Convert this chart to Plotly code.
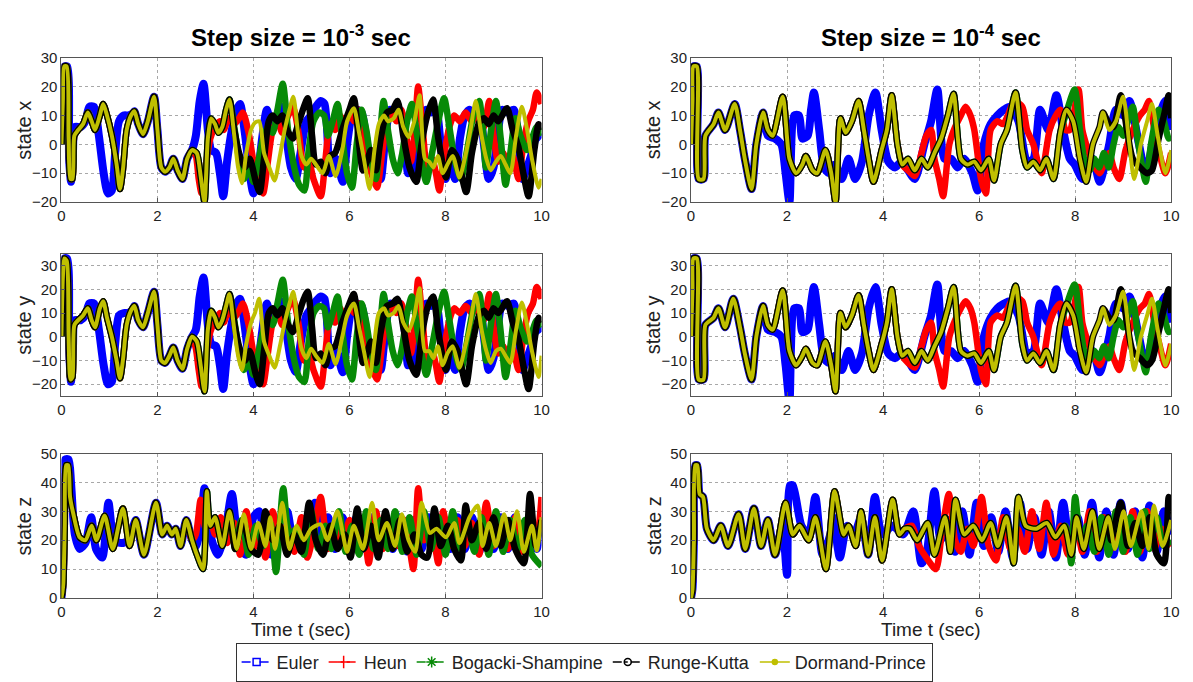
import plotly.graph_objects as go

METHODS = ["Euler", "Heun", "Bogacki-Shampine", "Runge-Kutta", "Dormand-Prince"]
COLORS = ["#0000FF", "#FF0000", "#078A07", "#000000", "#BFBF00"]
WIDTHS = [8, 6.5, 6.5, 6.5, 4]
TIME_TICKS = [0, 2, 4, 6, 8, 10]

# ================= Step size = 1e-3 (left column) =================
# ---- state x ----
L_X_COMMON = [(0,0),(0.03,15),(0.06,27),(0.11,27),(0.15,2),(0.19,-12),(0.23,-12),(0.27,3),(0.35,5),(0.45,7),(0.55,11),(0.63,8),(0.7,5),(0.8,10),(0.87,14),(0.95,10),(1.05,3),(1.15,-7),(1.22,-15.5),(1.28,-9),(1.36,5),(1.45,10),(1.52,11.5),(1.6,7),(1.7,3.5),(1.8,8),(1.93,16.5),(2.0,5),(2.08,-8),(2.16,-9.5),(2.25,-8),(2.33,-5),(2.42,-9),(2.52,-12),(2.62,-5),(2.72,-2)]
L_X_MID = [(2.82,-3),(2.9,-11),(2.98,-20),(3.05,2),(3.12,9),(3.2,7),(3.27,4),(3.35,6),(3.43,12),(3.5,15.5)]
L_X_EULER_EARLY = [(0,0),(0.03,20),(0.06,27),(0.12,27),(0.16,-5),(0.2,-13),(0.24,-3),(0.28,6),(0.4,6),(0.5,8),(0.58,13),(0.68,13),(0.78,3),(0.88,-10),(0.97,-17),(1.05,-16),(1.12,-3),(1.2,8),(1.3,10),(1.4,10),(1.5,11)]
L_X_EULER = [(2.8,3),(2.88,15),(2.96,21),(3.05,5),(3.12,-2),(3.22,-3),(3.3,-10),(3.37,-18),(3.45,-6),(3.55,5),(3.65,12),(3.72,14),(3.82,4),(3.92,-10),(4.0,-17),(4.08,-12),(4.18,2),(4.28,12),(4.38,6),(4.48,8),(4.58,13),(4.68,3),(4.78,-8),(4.88,-12),(4.98,-3),(5.1,8),(5.2,10),(5.3,13),(5.4,15),(5.48,14),(5.6,-10),(5.72,-5),(5.86,-13),(5.95,0),(6.05,10),(6.15,12),(6.25,11),(6.35,2),(6.45,-8),(6.55,-5),(6.65,-12),(6.75,3),(6.85,12),(6.95,11),(7.05,12),(7.15,3),(7.22,-10),(7.3,-6),(7.38,-12),(7.48,2),(7.6,12),(7.7,11),(7.8,12),(7.9,0),(8.0,-12),(8.1,-6),(8.2,-12),(8.3,2),(8.4,10),(8.5,12),(8.6,10),(8.7,11),(8.8,0),(8.9,-12),(9.0,-8),(9.08,2),(9.18,12),(9.3,11),(9.42,12),(9.5,5),(9.6,-12),(9.7,-8),(9.8,-3),(9.9,3),(10,2)]
L_X_HEUN = [(2.8,-4),(2.86,-12),(2.92,-17),(3.0,-8),(3.1,2),(3.2,6),(3.3,8),(3.38,5),(3.48,9),(3.6,7),(3.7,9),(3.78,11),(3.9,4),(4.0,-6),(4.1,-12),(4.2,-17),(4.3,-6),(4.4,5),(4.5,8),(4.6,4),(4.7,9),(4.82,13),(4.95,3),(5.05,-8),(5.15,-6),(5.25,-12),(5.4,-18),(5.5,-5),(5.6,7),(5.7,5),(5.8,10),(5.9,7),(6.0,11),(6.1,8),(6.2,12),(6.3,3),(6.42,-8),(6.57,-15),(6.68,-3),(6.78,8),(6.88,11),(6.98,8),(7.08,12),(7.18,3),(7.28,-6),(7.36,5),(7.43,20),(7.52,6),(7.62,-8),(7.72,-5),(7.8,-10),(7.87,-16),(7.97,-4),(8.08,6),(8.18,10),(8.3,8),(8.42,11),(8.55,8),(8.68,10),(8.8,6),(8.91,15),(9.0,3),(9.1,-6),(9.2,-3),(9.3,-8),(9.4,-4),(9.52,-12),(9.62,0),(9.72,8),(9.82,12),(9.9,18),(10,14)]
L_X_BS = [(3.6,6),(3.7,-5),(3.8,-12),(3.9,-8),(4.0,-13),(4.1,-6),(4.2,2),(4.3,6),(4.4,4),(4.5,12),(4.61,21),(4.72,5),(4.85,-8),(4.95,-14),(5.06,-16),(5.15,-2),(5.25,8),(5.37,11),(5.47,10),(5.55,3),(5.65,8),(5.75,14),(5.85,2),(5.95,-10),(6.05,-15),(6.15,0),(6.25,12),(6.35,5),(6.45,-6),(6.55,-12),(6.63,2),(6.71,15),(6.8,5),(6.9,-5),(7.0,-10),(7.1,-3),(7.2,8),(7.3,14),(7.4,4),(7.5,-6),(7.6,-13),(7.72,-3),(7.85,8),(7.97,16),(8.08,6),(8.2,-6),(8.32,-12),(8.45,-2),(8.58,10),(8.7,15),(8.78,5),(8.84,-8),(8.95,5),(9.05,15),(9.15,2),(9.25,-14),(9.35,-3),(9.46,9),(9.56,3),(9.7,-2),(9.8,2),(9.9,6),(10,3)]
L_X_RK = [(3.6,5),(3.7,-3),(3.82,-8),(3.92,-5),(4.05,-13),(4.13,-16.5),(4.22,-5),(4.32,8),(4.4,10),(4.5,8),(4.6,10),(4.7,5),(4.82,2),(4.95,8),(5.05,13),(5.13,16),(5.22,3),(5.3,-7),(5.4,-6),(5.5,-10),(5.6,-4),(5.7,-3),(5.85,5),(6.0,12),(6.09,16),(6.2,0),(6.28,-9),(6.36,-6),(6.45,-2),(6.55,-9),(6.65,2),(6.78,11),(6.9,12),(7.0,15),(7.12,3),(7.25,-8),(7.39,-13),(7.5,0),(7.62,10),(7.74,15.5),(7.85,2),(8.01,-11.5),(8.13,-2),(8.25,-5),(8.43,-16.5),(8.55,-3),(8.7,7.5),(8.8,9),(8.9,7),(9.0,10),(9.1,8),(9.28,12.5),(9.4,5),(9.52,-1),(9.62,-10),(9.73,-18),(9.85,-2),(9.94,7),(10,5)]
L_X_DP = [(3.6,3),(3.68,-8),(3.76,-13.5),(3.85,-3),(3.95,5),(4.03,7.5),(4.12,8),(4.22,-3),(4.33,-8),(4.44,-12.5),(4.55,-4),(4.65,5),(4.75,12),(4.83,16.5),(4.92,5),(5.0,-4),(5.1,-7),(5.2,-5),(5.3,-7),(5.44,-10),(5.57,-4),(5.71,-11),(5.85,-2),(5.95,8),(6.09,12.5),(6.2,4),(6.3,-5),(6.42,-15.5),(6.52,-2),(6.61,7),(6.72,10),(6.8,8),(6.92,9),(7.02,12),(7.12,6),(7.23,2.5),(7.35,8),(7.46,17),(7.57,-5),(7.66,-6),(7.75,-8),(7.84,-4),(7.94,-10),(8.04,-7),(8.15,-4),(8.29,-11.5),(8.4,-5),(8.52,5),(8.63,15),(8.75,3),(8.85,-5),(8.94,-9),(9.05,-6),(9.15,-4),(9.25,-7),(9.35,-10),(9.47,3),(9.59,13),(9.7,5),(9.8,-5),(9.94,-15),(10.0,-12)]

# ---- state y ----
L_Y_COMMON = [(0,0),(0.03,25),(0.06,33),(0.11,32),(0.15,0),(0.19,-18),(0.23,-17),(0.27,5),(0.35,7),(0.45,9),(0.55,12),(0.63,7),(0.7,4),(0.8,12),(0.87,15),(0.95,8),(1.05,0),(1.15,-10),(1.22,-17.5),(1.28,-10),(1.36,5),(1.45,11),(1.52,13),(1.6,7),(1.7,4),(1.8,10),(1.93,19),(2.0,5),(2.08,-10),(2.16,-11),(2.25,-8),(2.33,-4.5),(2.42,-10),(2.52,-13.5),(2.62,-5),(2.72,0)]
L_Y_MID = [(2.82,-2),(2.9,-12),(2.98,-23),(3.05,3),(3.12,11),(3.2,8),(3.27,4),(3.35,7),(3.43,13),(3.5,18)]
L_Y_EULER_EARLY = [(0,0),(0.03,25),(0.06,33),(0.12,33),(0.16,-5),(0.2,-19),(0.24,-5),(0.28,7),(0.4,7),(0.5,9),(0.58,14),(0.68,14),(0.78,3),(0.88,-12),(0.97,-20),(1.05,-19),(1.12,-3),(1.2,9),(1.3,10),(1.4,10),(1.5,12)]
L_Y_EULER = [(2.8,3),(2.88,17),(2.96,25),(3.05,5),(3.12,-3),(3.22,-4),(3.3,-12),(3.37,-22),(3.45,-7),(3.55,6),(3.65,14),(3.72,16),(3.82,4),(3.92,-12),(4.0,-20),(4.08,-14),(4.18,2),(4.28,14),(4.38,7),(4.48,9),(4.58,15),(4.68,3),(4.78,-10),(4.88,-15),(4.98,-3),(5.1,9),(5.2,12),(5.3,15),(5.4,17),(5.48,16),(5.6,-12),(5.72,-6),(5.86,-15),(5.95,0),(6.05,12),(6.15,14),(6.25,13),(6.35,2),(6.45,-10),(6.55,-6),(6.65,-14),(6.75,3),(6.85,14),(6.95,13),(7.05,14),(7.15,3),(7.22,-12),(7.3,-7),(7.38,-14),(7.48,2),(7.6,14),(7.7,13),(7.8,14),(7.9,0),(8.0,-14),(8.1,-7),(8.2,-14),(8.3,2),(8.4,12),(8.5,14),(8.6,12),(8.7,13),(8.8,0),(8.9,-14),(9.0,-9),(9.08,2),(9.18,14),(9.3,13),(9.42,14),(9.5,5),(9.6,-14),(9.7,-9),(9.8,-3),(9.9,4),(10,2)]
L_Y_HEUN = [(2.8,-5),(2.86,-14),(2.92,-21),(3.0,-10),(3.1,2),(3.2,7),(3.3,10),(3.38,6),(3.48,11),(3.6,8),(3.7,11),(3.78,14),(3.9,5),(4.0,-7),(4.1,-14),(4.2,-20),(4.3,-7),(4.4,6),(4.5,10),(4.6,5),(4.7,11),(4.82,16),(4.95,4),(5.05,-10),(5.15,-7),(5.25,-14),(5.4,-21),(5.5,-6),(5.6,8),(5.7,6),(5.8,12),(5.9,8),(6.0,13),(6.1,10),(6.2,14),(6.3,4),(6.42,-10),(6.57,-18),(6.68,-4),(6.78,10),(6.88,13),(6.98,10),(7.08,14),(7.18,4),(7.28,-7),(7.36,6),(7.43,24),(7.52,7),(7.62,-10),(7.72,-6),(7.8,-12),(7.87,-19),(7.97,-5),(8.08,7),(8.18,12),(8.3,10),(8.42,13),(8.55,10),(8.68,12),(8.8,7),(8.91,18),(9.0,4),(9.1,-7),(9.2,-4),(9.3,-10),(9.4,-5),(9.52,-14),(9.62,0),(9.72,10),(9.82,14),(9.9,21),(10,16)]
L_Y_BS = [(3.6,7),(3.7,-6),(3.8,-14),(3.9,-10),(4.0,-16),(4.1,-7),(4.2,2),(4.3,7),(4.4,5),(4.5,14),(4.61,24),(4.72,6),(4.85,-10),(4.95,-17),(5.06,-19),(5.15,-2),(5.25,10),(5.37,13),(5.47,12),(5.55,4),(5.65,10),(5.75,17),(5.85,2),(5.95,-12),(6.05,-18),(6.15,0),(6.25,14),(6.35,6),(6.45,-7),(6.55,-14),(6.63,2),(6.71,18),(6.8,6),(6.9,-6),(7.0,-12),(7.1,-4),(7.2,10),(7.3,17),(7.4,5),(7.5,-7),(7.6,-16),(7.72,-4),(7.85,10),(7.97,19),(8.08,7),(8.2,-7),(8.32,-14),(8.45,-2),(8.58,12),(8.7,18),(8.78,6),(8.84,-10),(8.95,6),(9.05,18),(9.15,2),(9.25,-17),(9.35,-4),(9.46,11),(9.56,4),(9.7,-2),(9.8,2),(9.9,7),(10,4)]
L_Y_RK = [(3.6,6),(3.7,-4),(3.82,-10),(3.92,-6),(4.05,-16),(4.13,-20),(4.22,-6),(4.32,10),(4.4,12),(4.5,9),(4.6,12),(4.7,6),(4.82,2),(4.95,10),(5.05,16),(5.13,19),(5.22,4),(5.3,-9),(5.4,-7),(5.5,-12),(5.6,-5),(5.7,-4),(5.85,6),(6.0,14),(6.09,18),(6.2,0),(6.28,-11),(6.36,-7),(6.45,-2),(6.55,-11),(6.65,2),(6.78,13),(6.9,14),(7.0,16),(7.12,4),(7.25,-10),(7.39,-16),(7.5,0),(7.62,12),(7.74,17),(7.85,2),(8.01,-14),(8.13,-2),(8.25,-6),(8.43,-20),(8.55,-4),(8.7,9),(8.8,11),(8.9,8),(9.0,12),(9.1,10),(9.28,15),(9.4,6),(9.52,-1),(9.62,-12),(9.73,-22),(9.85,-2),(9.94,8),(10,6)]
L_Y_DP = [(3.6,3),(3.68,-8),(3.76,-14),(3.85,-3),(3.95,6),(4.03,10),(4.12,16),(4.22,-2),(4.33,-8),(4.44,-13),(4.55,-4),(4.65,6),(4.75,14),(4.83,19),(4.92,5),(5.0,-5),(5.1,-9),(5.2,-5),(5.3,-8),(5.44,-11),(5.57,-3),(5.71,-11.5),(5.85,0),(5.95,9),(6.09,14),(6.2,4),(6.3,-6),(6.42,-17),(6.52,-2),(6.61,10),(6.72,12),(6.8,9),(6.92,10),(7.02,13),(7.12,6),(7.23,2.5),(7.35,9),(7.46,20.5),(7.57,-6),(7.66,-6),(7.75,-9),(7.84,-4),(7.94,-12),(8.04,-7),(8.15,-4),(8.29,-13),(8.4,-5),(8.52,6),(8.63,18),(8.75,3),(8.85,-6),(8.94,-11),(9.05,-6),(9.15,-5),(9.25,-8),(9.35,-11),(9.47,3),(9.59,14.5),(9.7,5),(9.8,-6),(9.94,-17),(10.0,-8)]

# ---- state z ----
L_Z_COMMON = [(0,0),(0.02,2),(0.04,5),(0.07,25),(0.1,46),(0.14,46),(0.18,35),(0.25,29),(0.38,21),(0.5,20),(0.63,25),(0.73,20),(0.9,28.5),(1.07,17),(1.28,31),(1.42,18),(1.55,27),(1.72,15),(1.97,33),(2.1,22),(2.2,25),(2.3,22),(2.38,24),(2.48,18),(2.6,27),(2.72,20)]
L_Z_MID = [(2.82,15),(2.95,10),(3.03,37),(3.1,25),(3.2,28),(3.35,18),(3.5,30)]
L_Z_EULER_EARLY = [(0,0),(0.02,3),(0.05,20),(0.08,48),(0.15,48),(0.2,40),(0.28,22),(0.38,17),(0.5,19),(0.62,28),(0.72,17),(0.85,14),(0.98,33),(1.1,20),(1.25,19),(1.4,20),(1.5,25)]
L_Z_EULER = [(2.8,18),(2.9,25),(2.98,38),(3.1,22),(3.25,15),(3.4,22),(3.55,36),(3.7,18),(3.85,15),(4.0,28),(4.12,30),(4.25,18),(4.38,15),(4.55,22),(4.7,30),(4.85,18),(5.0,22),(5.12,17),(5.28,33),(5.42,18),(5.55,28),(5.7,17),(5.85,28),(6.0,18),(6.15,28),(6.3,17),(6.45,28),(6.6,17),(6.75,28),(6.9,17),(7.05,28),(7.2,16),(7.35,27),(7.5,17),(7.65,28),(7.8,17),(7.95,28),(8.1,17),(8.25,28),(8.4,17),(8.55,28),(8.7,16),(8.85,28),(9.0,17),(9.15,28),(9.3,17),(9.45,28),(9.6,17),(9.75,28),(9.9,17),(10,28)]
L_Z_HEUN = [(2.8,22),(2.9,34),(3.0,24),(3.1,27),(3.2,22),(3.32,28),(3.45,19),(3.6,26),(3.72,15),(3.85,30),(4.0,17),(4.12,25),(4.25,14),(4.4,30),(4.55,20),(4.7,25),(4.85,16),(5.0,28),(5.12,14),(5.25,22),(5.4,35),(5.55,17),(5.7,26),(5.85,18),(6.0,27),(6.12,20),(6.28,24),(6.4,12),(6.55,30),(6.7,17),(6.85,26),(7.0,18),(7.15,27),(7.33,10),(7.43,38),(7.55,20),(7.7,25),(7.85,12),(7.95,30),(8.1,18),(8.25,27),(8.4,18),(8.55,26),(8.7,15),(8.85,33),(9.0,18),(9.15,27),(9.3,17),(9.45,28),(9.6,16),(9.75,22),(9.88,20),(10,35)]
L_Z_BS = [(3.62,17),(3.75,27),(3.9,15),(4.05,25),(4.2,18),(4.35,26),(4.47,9),(4.62,38),(4.75,22),(4.9,24),(5.05,15),(5.2,30),(5.35,17),(5.5,25),(5.62,17),(5.78,30),(5.92,16),(6.05,25),(6.2,15),(6.35,30),(6.5,17),(6.65,27),(6.8,17),(6.95,30),(7.1,16),(7.25,28),(7.4,15),(7.55,30),(7.7,17),(7.85,28),(8.0,15),(8.15,30),(8.3,17),(8.45,27),(8.6,16),(8.75,28),(8.9,15),(9.05,30),(9.2,16),(9.35,27),(9.5,17),(9.65,27),(9.8,15),(10,11)]
L_Z_RK = [(3.62,17),(3.78,27),(3.95,17),(4.1,15),(4.25,30),(4.4,20),(4.55,25),(4.7,15),(4.85,22),(5.0,16),(5.16,33),(5.3,20),(5.45,15),(5.6,25),(5.75,17),(5.9,22),(6.02,14),(6.16,31),(6.3,17),(6.45,25),(6.6,14),(6.75,30),(6.9,17),(7.05,27),(7.2,16),(7.35,22),(7.5,15),(7.62,14),(7.77,31),(7.9,18),(8.05,25),(8.18,17),(8.32,13),(8.42,32),(8.55,20),(8.7,26),(8.85,17),(9.0,28),(9.15,18),(9.3,27),(9.45,17),(9.63,12),(9.76,36),(9.88,18),(10,27)]
L_Z_DP = [(3.65,17),(3.8,29),(3.95,17),(4.1,26),(4.25,18),(4.35,28),(4.45,17),(4.6,33),(4.75,17),(4.9,25),(5.05,20),(5.2,24),(5.4,25.5),(5.54,20),(5.75,30),(5.95,16),(6.09,25),(6.28,17),(6.47,33),(6.61,20),(6.78,26),(6.95,18),(7.09,29),(7.23,20),(7.37,16),(7.5,33),(7.67,22.5),(7.81,24),(8.01,21),(8.18,26),(8.29,19),(8.5,28),(8.67,32),(8.77,18),(8.91,26),(9.05,18),(9.22,29),(9.35,20),(9.49,30),(9.63,16),(9.8,25),(9.9,16.5),(10,28)]

# ================= Step size = 1e-4 (right column) =================
# ---- state x ----
R_X_COMMON = [(0,0),(0.03,15),(0.05,27),(0.12,27),(0.16,-12),(0.26,-12),(0.3,3),(0.47,7),(0.57,11),(0.71,5),(0.91,14),(1.02,5),(1.12,-5),(1.26,-15.5),(1.36,0),(1.5,11)]
R_X_CONT = [(1.6,5),(1.7,3),(1.91,16.5),(2.05,-5),(2.19,-10),(2.32,-7),(2.39,-4),(2.53,-9),(2.63,-10),(2.8,-2),(2.92,-10),(3.01,-20),(3.11,9),(3.22,4),(3.35,8),(3.49,15),(3.6,5),(3.7,-5),(3.8,-13),(3.97,-2),(4.08,5),(4.18,17),(4.3,0),(4.4,-7)]
R_X_DP = [(4.52,-5),(4.66,-9),(4.8,-5),(4.93,-8),(5.07,-3),(5.21,2),(5.35,10),(5.47,17.5),(5.62,-5),(5.76,-7),(5.9,-6),(6.04,-9),(6.2,-5),(6.31,-12.5),(6.45,0),(6.58,5),(6.76,18),(6.9,-2),(7.0,-8),(7.13,-6),(7.27,-9),(7.4,-5),(7.55,-12),(7.69,4),(7.82,12),(7.96,8),(8.1,-5),(8.23,-13),(8.37,0),(8.51,6),(8.58,11),(8.71,5),(8.85,8),(9.0,16.5),(9.13,0),(9.23,-12),(9.37,0),(9.5,8),(9.6,14),(9.72,3),(9.88,-10),(10,-2)]
R_X_EULER = [(1.6,3),(1.75,2),(1.88,0),(1.97,-10),(2.05,-20),(2.15,10),(2.25,10),(2.32,2),(2.43,3),(2.5,12),(2.56,18),(2.67,5),(2.77,-8),(2.87,-10),(3.0,-7),(3.14,-12),(3.28,-5),(3.42,-12),(3.56,-6),(3.7,10),(3.84,18),(3.97,5),(4.11,-6),(4.25,-8),(4.38,-6),(4.52,-9),(4.66,-12),(4.86,0),(5.0,8),(5.13,19),(5.28,-5),(5.42,-5),(5.55,-8),(5.69,-5),(5.86,-10),(5.97,-16),(6.1,0),(6.24,7),(6.38,10),(6.52,12),(6.65,13),(6.82,8),(7.0,-6),(7.13,-5),(7.27,12),(7.44,5),(7.61,17),(7.75,5),(7.89,-5),(7.99,-7),(8.16,-12),(8.37,-5),(8.51,-13),(8.71,0),(8.85,12),(9.0,10),(9.13,15),(9.33,0),(9.47,-10),(9.67,5),(9.88,15),(10,5)]
R_X_HEUN = [(4.52,-9),(4.66,-11),(4.8,-3),(4.9,3),(5.0,5),(5.07,-5),(5.17,-12),(5.25,-18),(5.38,0),(5.5,6),(5.62,10),(5.72,13),(5.82,10),(5.9,5),(6.04,-12),(6.14,-17),(6.24,5),(6.38,8),(6.5,7),(6.6,10),(6.73,15),(6.9,13),(7.0,5),(7.13,0),(7.3,-10),(7.47,5),(7.6,10),(7.69,12),(7.8,5),(7.89,5),(8.07,19),(8.15,5),(8.23,0),(8.35,-6),(8.51,-10),(8.62,-6),(8.71,-3),(8.8,-8),(8.92,-12),(9.05,-2),(9.2,5),(9.35,10),(9.45,12),(9.54,15),(9.65,5),(9.74,-2),(9.88,-10),(10,-3)]
R_X_BS = [(7.8,10),(7.99,19),(8.1,5),(8.2,-6),(8.3,-9),(8.4,-5),(8.5,-8),(8.6,-3),(8.7,-8),(8.8,0),(8.9,6),(9.0,3),(9.1,8),(9.2,13),(9.3,2),(9.4,-8),(9.47,-13),(9.58,0),(9.74,12),(9.85,8),(9.95,2),(10,3)]
R_X_RK = [(8.71,7),(8.8,6),(8.95,17),(9.08,5),(9.2,-5),(9.35,-8),(9.5,-10),(9.6,-9),(9.74,2),(9.85,10),(9.95,17),(10,9)]

# ---- state y ----
R_Y_COMMON = [(0,0),(0.03,20),(0.05,33),(0.12,33),(0.16,-18),(0.26,-18),(0.3,5),(0.47,8),(0.57,12),(0.71,4),(0.88,16),(1.02,4),(1.12,-7),(1.26,-18),(1.36,0),(1.5,13)]
R_Y_CONT = [(1.6,5),(1.7,3),(1.91,19.5),(2.05,-6),(2.19,-12),(2.32,-8),(2.39,-5),(2.53,-11),(2.63,-12),(2.8,-2),(2.92,-12),(3.01,-23),(3.11,10),(3.22,4),(3.35,9),(3.49,17.5),(3.6,5),(3.7,-6),(3.8,-14),(3.97,-3),(4.08,6),(4.18,20),(4.3,0),(4.4,-8)]
R_Y_DP = [(4.52,-6),(4.66,-11),(4.8,-6),(4.93,-10),(5.07,-4),(5.21,2),(5.35,12),(5.47,21),(5.62,-6),(5.76,-8),(5.9,-7),(6.04,-11),(6.2,-6),(6.31,-14),(6.45,0),(6.58,6),(6.76,21.5),(6.9,-3),(7.0,-10),(7.13,-7),(7.27,-11),(7.4,-6),(7.55,-14),(7.69,5),(7.82,14),(7.96,9),(8.1,-6),(8.23,-15),(8.37,0),(8.51,7),(8.58,12),(8.71,5),(8.85,9),(9.0,19),(9.13,0),(9.23,-14),(9.37,0),(9.5,9),(9.6,16),(9.72,3),(9.88,-12),(10,-3)]
R_Y_EULER = [(1.6,3),(1.75,2),(1.88,0),(1.97,-12),(2.05,-27),(2.15,12),(2.25,12),(2.32,2),(2.43,3),(2.5,14),(2.56,21),(2.67,5),(2.77,-9),(2.87,-11),(3.0,-8),(3.14,-14),(3.28,-6),(3.42,-14),(3.56,-7),(3.7,12),(3.84,21),(3.97,5),(4.11,-7),(4.25,-9),(4.38,-7),(4.52,-10),(4.66,-14),(4.86,0),(5.0,9),(5.13,22),(5.28,-6),(5.42,-6),(5.55,-9),(5.69,-6),(5.86,-12),(5.97,-19),(6.1,0),(6.24,8),(6.38,12),(6.52,14),(6.65,15),(6.82,9),(7.0,-7),(7.13,-6),(7.27,14),(7.44,6),(7.61,20),(7.75,6),(7.89,-6),(7.99,-8),(8.16,-14),(8.37,-6),(8.51,-15),(8.71,0),(8.85,14),(9.0,12),(9.13,17),(9.33,0),(9.47,-12),(9.67,6),(9.88,17),(10,6)]
R_Y_HEUN = [(4.52,-11),(4.66,-13),(4.8,-4),(4.9,3),(5.0,6),(5.07,-6),(5.17,-14),(5.25,-21),(5.38,0),(5.5,7),(5.62,12),(5.72,15),(5.82,12),(5.9,6),(6.04,-14),(6.14,-20),(6.24,6),(6.38,9),(6.5,8),(6.6,12),(6.73,17),(6.9,15),(7.0,6),(7.13,0),(7.3,-12),(7.47,6),(7.6,12),(7.69,14),(7.8,6),(7.89,6),(8.07,21),(8.15,6),(8.23,0),(8.35,-7),(8.51,-12),(8.62,-7),(8.71,-4),(8.8,-9),(8.92,-14),(9.05,-2),(9.2,6),(9.35,12),(9.45,14),(9.54,18),(9.65,6),(9.74,-2),(9.88,-12),(10,-3)]
R_Y_BS = [(7.8,12),(7.99,22),(8.1,6),(8.2,-7),(8.3,-10),(8.4,-6),(8.5,-9),(8.6,-4),(8.7,-9),(8.8,0),(8.9,7),(9.0,4),(9.1,9),(9.2,15),(9.3,2),(9.4,-9),(9.47,-15),(9.58,0),(9.74,14),(9.85,9),(9.95,2),(10,3)]
R_Y_RK = [(8.71,8),(8.8,7),(8.95,20),(9.08,6),(9.2,-6),(9.35,-9),(9.5,-12),(9.6,-10),(9.74,2),(9.85,12),(9.95,20),(10,10)]

# ---- state z ----
R_Z_COMMON = [(0,0),(0.03,3),(0.06,20),(0.09,46),(0.13,46),(0.18,36),(0.25,35),(0.33,24),(0.47,20),(0.62,25),(0.77,18),(0.99,29),(1.13,17),(1.31,31),(1.46,18)]
R_Z_CONT = [(1.6,27),(1.75,15),(1.97,33),(2.12,22),(2.26,25),(2.45,20),(2.59,28),(2.81,10),(2.99,37),(3.18,22),(3.28,25),(3.43,18),(3.54,30),(3.69,15),(3.83,28),(3.98,13),(4.2,34),(4.34,22),(4.45,24)]
R_Z_DP = [(4.56,24),(4.71,20),(4.93,26),(5.07,15),(5.29,28),(5.4,16),(5.51,34),(5.69,22),(5.88,25),(6.06,20),(6.24,26),(6.39,18),(6.57,28),(6.72,12),(6.82,35),(6.97,25),(7.19,24),(7.41,26),(7.59,21),(7.77,25),(7.92,15),(8.03,28),(8.18,17),(8.36,30),(8.5,17),(8.69,28),(8.83,17),(9.01,30),(9.16,18),(9.38,30),(9.53,17),(9.64,32),(9.82,18),(10,27)]
R_Z_EULER = [(1.6,27),(1.75,15),(1.9,25),(2.0,8),(2.06,39),(2.12,39),(2.3,25),(2.45,22),(2.59,35),(2.74,15),(2.9,22),(2.96,28),(3.1,14),(3.25,25),(3.4,22),(3.54,28),(3.69,15),(3.83,35),(3.98,22),(4.2,25),(4.42,22),(4.63,30),(4.8,12),(4.9,15),(5.07,37),(5.2,20),(5.35,27),(5.5,16),(5.65,30),(5.8,15),(5.95,33),(6.1,18),(6.25,28),(6.4,16),(6.55,30),(6.7,14),(6.85,33),(7.0,17),(7.15,28),(7.3,15),(7.45,30),(7.6,14),(7.75,33),(7.9,17),(8.05,28),(8.2,15),(8.35,33),(8.5,14),(8.65,30),(8.8,15),(8.95,33),(9.1,17),(9.25,30),(9.4,14),(9.55,32),(9.7,16),(9.85,30),(10,22)]
R_Z_HEUN = [(4.6,25),(4.75,18),(4.9,14),(5.1,10),(5.22,22),(5.37,36),(5.5,20),(5.62,16),(5.75,24),(5.88,18),(6.05,35),(6.2,18),(6.35,13),(6.5,28),(6.65,17),(6.8,24),(6.95,16),(7.1,30),(7.25,17),(7.4,33),(7.55,15),(7.7,25),(7.85,15),(8.0,28),(8.15,16),(8.3,30),(8.45,16),(8.6,28),(8.75,17),(8.9,30),(9.05,16),(9.2,30),(9.35,16),(9.5,30),(9.65,17),(9.8,24),(9.9,20),(10,18)]
R_Z_BS = [(7.8,25),(7.92,12),(8.0,35),(8.12,20),(8.25,25),(8.4,16),(8.55,28),(8.7,15),(8.85,30),(9.0,16),(9.15,28),(9.3,15),(9.45,30),(9.55,17),(9.7,28),(9.85,18),(10,20)]
R_Z_RK = [(8.75,20),(8.95,33),(9.1,18),(9.25,26),(9.4,18),(9.55,28),(9.7,15),(9.85,12),(9.95,35),(10,30)]


def after(pairs, t0):
    return [p for p in pairs if p[0] > t0]


def upto(pairs, t1):
    return [p for p in pairs if p[0] <= t1]


def build_left(common, mid, euler_early, euler, heun, bs, rk, dp):
    return [
        euler_early + after(common, euler_early[-1][0]) + euler,
        common + heun,
        common + mid + bs,
        common + mid + rk,
        common + mid + dp,
    ]


def build_right(common, cont, dp, euler, heun, bs, rk):
    shared = common + cont
    return [
        common + euler,
        shared + heun,
        shared + upto(dp, bs[0][0] - 0.05) + bs,
        shared + upto(dp, rk[0][0] - 0.05) + rk,
        shared + dp,
    ]


panels = [
    build_left(L_X_COMMON, L_X_MID, L_X_EULER_EARLY, L_X_EULER, L_X_HEUN, L_X_BS, L_X_RK, L_X_DP),
    build_left(L_Y_COMMON, L_Y_MID, L_Y_EULER_EARLY, L_Y_EULER, L_Y_HEUN, L_Y_BS, L_Y_RK, L_Y_DP),
    build_left(L_Z_COMMON, L_Z_MID, L_Z_EULER_EARLY, L_Z_EULER, L_Z_HEUN, L_Z_BS, L_Z_RK, L_Z_DP),
    build_right(R_X_COMMON, R_X_CONT, R_X_DP, R_X_EULER, R_X_HEUN, R_X_BS, R_X_RK),
    build_right(R_Y_COMMON, R_Y_CONT, R_Y_DP, R_Y_EULER, R_Y_HEUN, R_Y_BS, R_Y_RK),
    build_right(R_Z_COMMON, R_Z_CONT, R_Z_DP, R_Z_EULER, R_Z_HEUN, R_Z_BS, R_Z_RK),
]

W, H = 1193, 682
FONT = "Arial, Liberation Sans, Helvetica, sans-serif"

# pixel geometry of the six panels
x_dom_px = [(58, 543), (694, 1179)]
y_dom_px = [(50, 198), (251, 397), (456, 604)]
y_ranges = [[-20, 30], [-25, 35], [0, 50]]
y_ticks = [[-20, -10, 0, 10, 20, 30], [-20, -10, 0, 10, 20, 30], [0, 10, 20, 30, 40, 50]]
y_labels = ["state x", "state y", "state z"]

fig = go.Figure()
layout = dict()
for idx, traces in enumerate(panels):
    col, row = divmod(idx, 3)
    n = idx + 1
    xa = "x" if n == 1 else f"x{n}"
    ya = "y" if n == 1 else f"y{n}"
    for m, pairs in enumerate(traces):
        fig.add_trace(go.Scatter(
            x=[p[0] for p in pairs], y=[p[1] for p in pairs],
            mode="lines", xaxis=xa, yaxis=ya, showlegend=False,
            line=dict(color=COLORS[m], width=WIDTHS[m], shape="spline", smoothing=0.7),
            hoverinfo="skip"))
    x0, x1 = x_dom_px[col]
    yt, yb = y_dom_px[row]
    axcommon = dict(showline=True, mirror=True, linecolor="#555", linewidth=1,
                    ticks="inside", ticklen=4, tickcolor="#555",
                    showgrid=True, gridcolor="#a8a8a8", griddash="dot", gridwidth=1,
                    zeroline=False, tickfont=dict(size=15, family=FONT, color="#222"))
    layout["xaxis" if n == 1 else f"xaxis{n}"] = dict(
        domain=[x0 / W, x1 / W], range=[0, 10], tickvals=TIME_TICKS,
        anchor=ya, **axcommon)
    layout["yaxis" if n == 1 else f"yaxis{n}"] = dict(
        domain=[1 - yb / H, 1 - yt / H], range=y_ranges[row], tickvals=y_ticks[row],
        anchor=xa, **axcommon)

# legend-only entries
LEG_DASH = ["dash", "dashdot", "dash", "dashdot", "solid"]
LEG_SYM = ["square-open", "cross-thin-open", "asterisk-open", "circle-open", "circle"]
LEG_SIZE = [7, 9, 9, 7, 5]
for m, name in enumerate(METHODS):
    fig.add_trace(go.Scatter(
        x=[None], y=[None], mode="lines+markers", name=name,
        line=dict(color=COLORS[m], width=1.6, dash=LEG_DASH[m]),
        marker=dict(symbol=LEG_SYM[m], size=LEG_SIZE[m], color=COLORS[m],
                    line=dict(color=COLORS[m], width=1.5))))

annotations = []
for col, sup in enumerate(["-3", "-4"]):
    x0, x1 = x_dom_px[col]
    cx = (x0 + x1) / 2 / W
    annotations.append(dict(text=f"<b>Step size = 10<sup>{sup}</sup> sec</b>", x=cx, y=1 - 28 / H,
                            xref="paper", yref="paper", showarrow=False,
                            font=dict(size=24, family=FONT, color="#000"),
                            xanchor="center", yanchor="middle"))
    annotations.append(dict(text="Time t (sec)", x=cx, y=1 - 636 / H,
                            xref="paper", yref="paper", showarrow=False,
                            font=dict(size=19, family=FONT, color="#222"),
                            xanchor="center", yanchor="middle"))
    for row in range(3):
        yt, yb = y_dom_px[row]
        annotations.append(dict(text=y_labels[row], x=(x0 - 38) / W, y=1 - (yt + yb) / 2 / H,
                                xref="paper", yref="paper", showarrow=False, textangle=-90,
                                font=dict(size=20, family=FONT, color="#222"),
                                xanchor="center", yanchor="middle"))

fig.update_layout(
    width=W, height=H, margin=dict(l=0, r=0, t=0, b=0),
    paper_bgcolor="white", plot_bgcolor="white",
    font=dict(family=FONT),
    annotations=annotations,
    legend=dict(orientation="h", x=586 / W, xanchor="center", y=1 - 650 / H, yanchor="top",
                bordercolor="#333", borderwidth=1, bgcolor="white",
                font=dict(size=18, family=FONT, color="#222"),
                itemwidth=30, tracegroupgap=0),
    **layout,
)

fig.write_html("out.html",
               post_script="document.body.style.margin='0';document.body.style.overflow='hidden';")
